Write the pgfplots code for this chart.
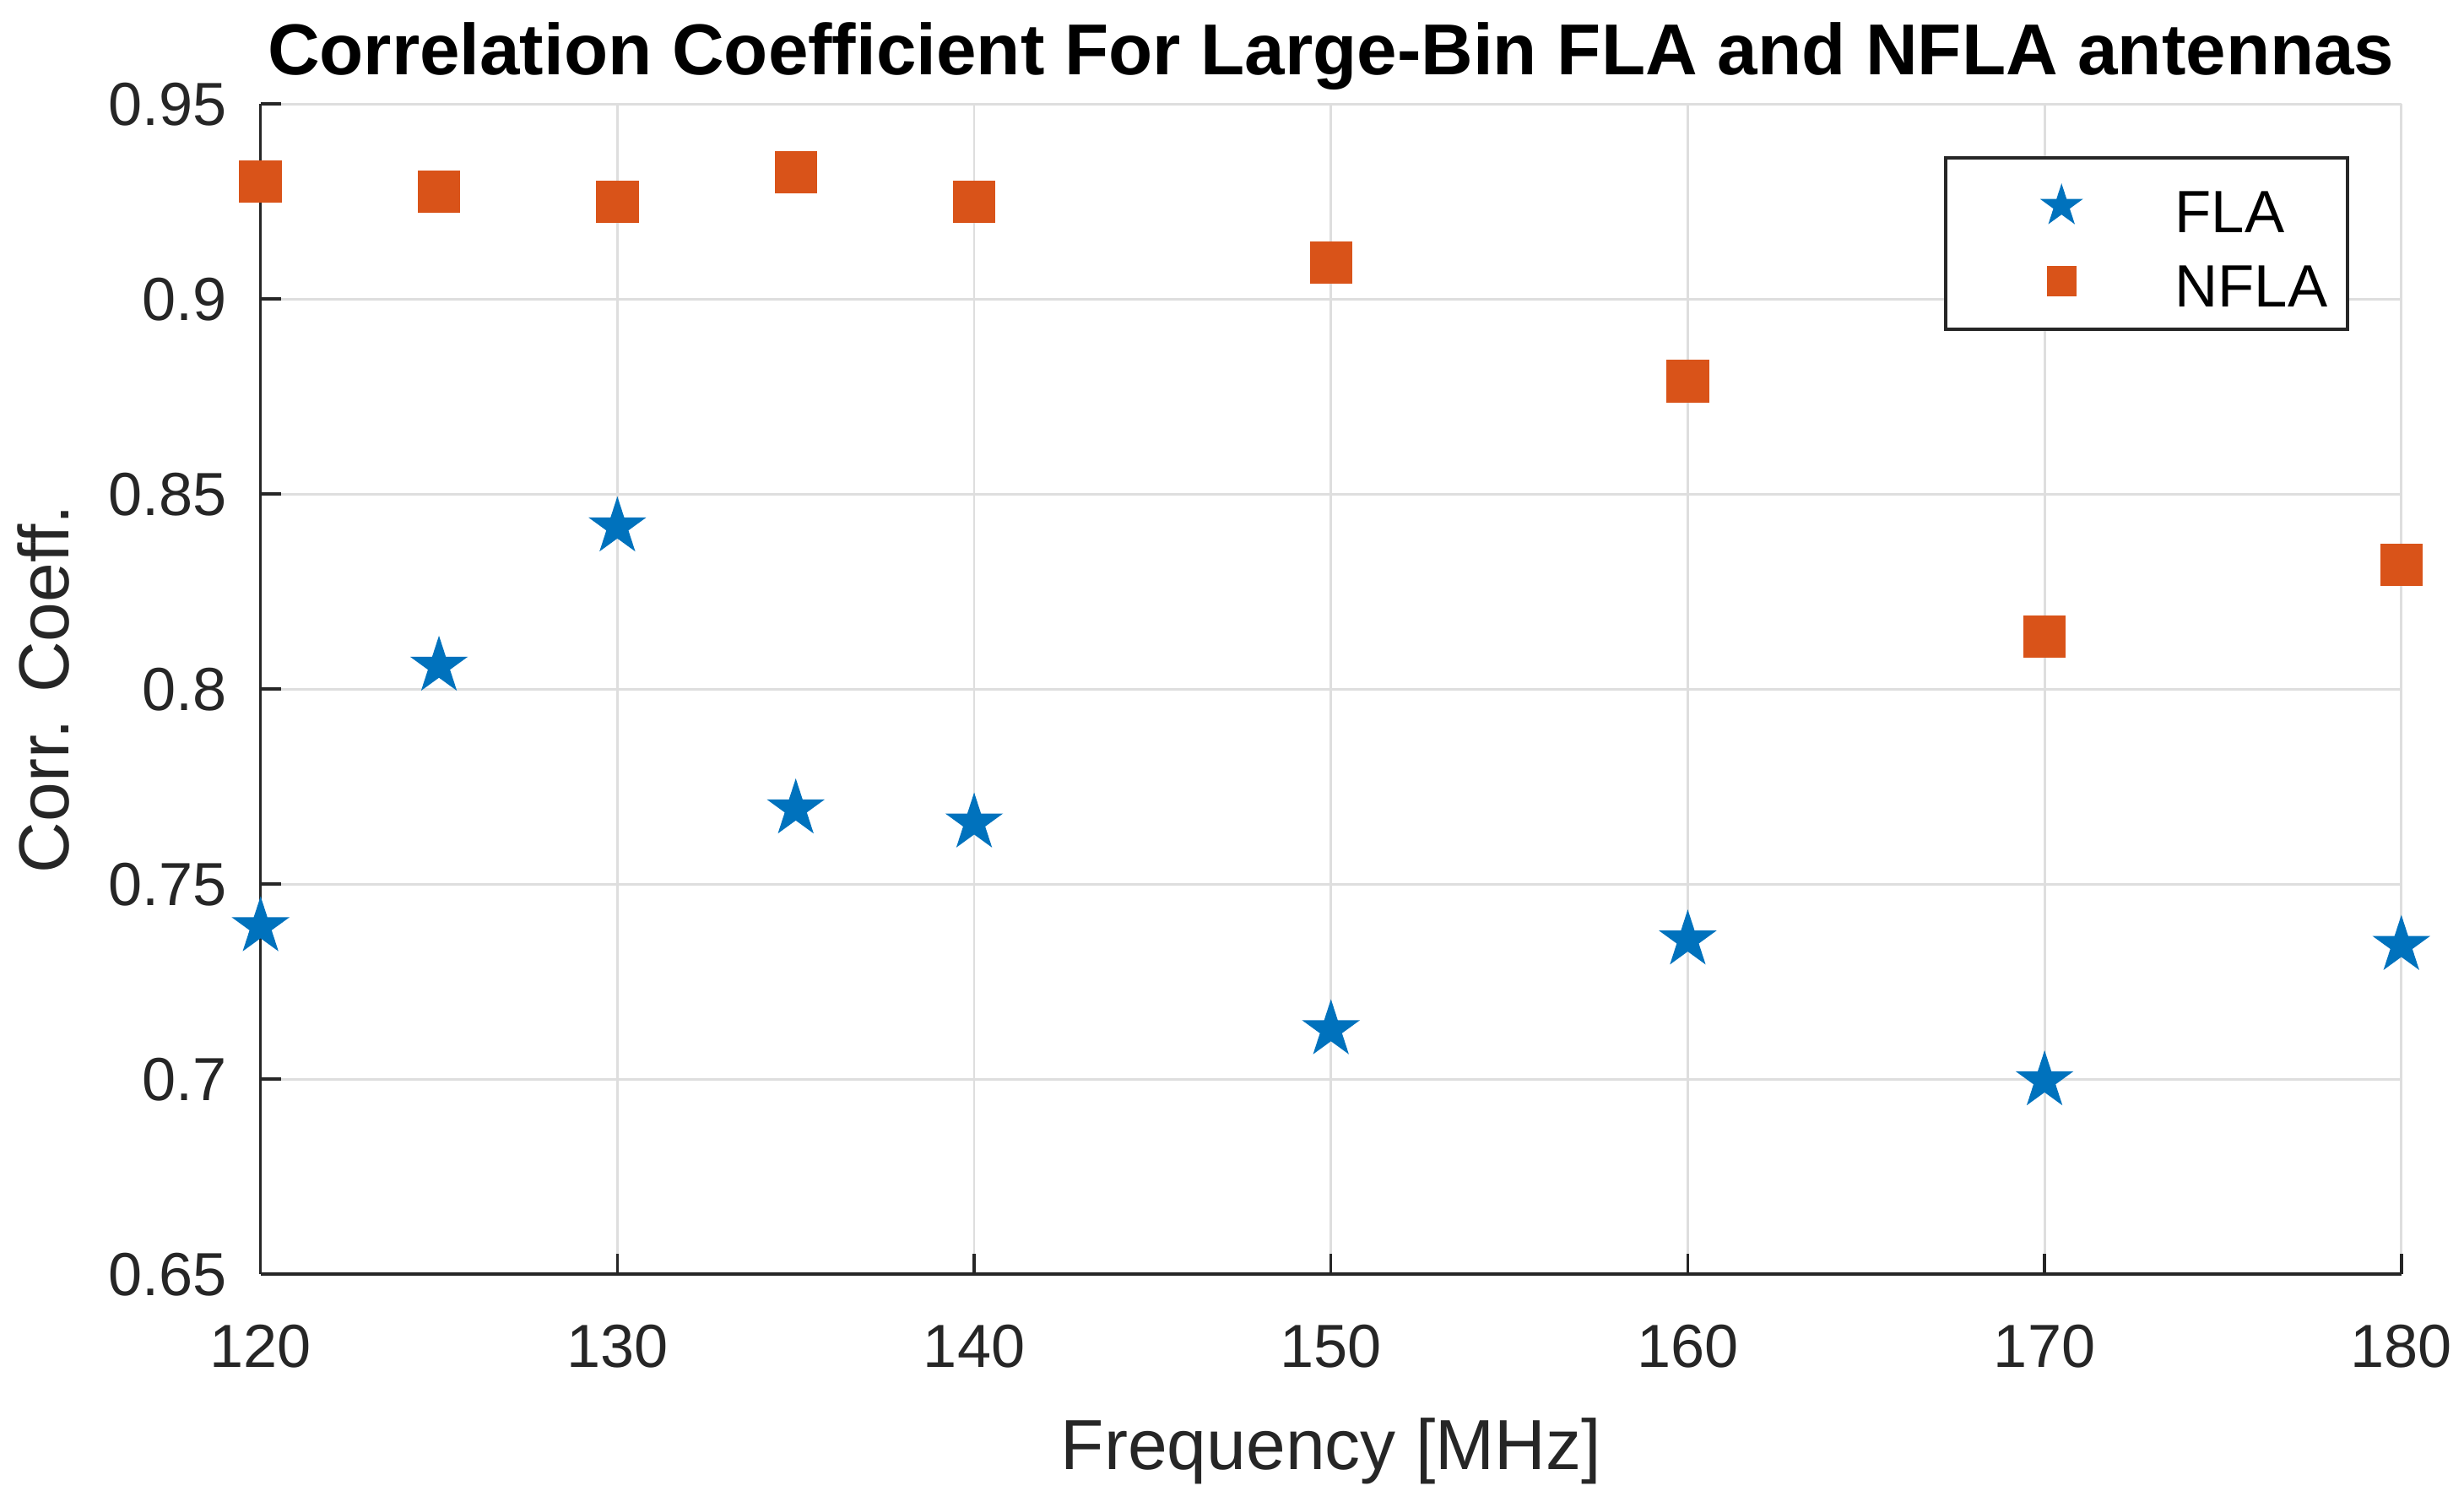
\documentclass[border=0pt]{standalone}
\usepackage{fontspec}
\setmainfont{Liberation Sans}
\usepackage{pgfplots}
\pgfplotsset{compat=1.18}

\definecolor{mblue}{HTML}{0072BD}
\definecolor{morange}{HTML}{D95319}
\definecolor{axgray}{HTML}{262626}
\definecolor{gridgray}{HTML}{DEDEDE}

% filled pentagram like MATLAB's 'p' marker
\pgfdeclareplotmark{fstar}{%
  \pgfpathmoveto{\pgfpointpolar{90}{\pgfplotmarksize}}%
  \pgfpathlineto{\pgfpointpolar{126}{0.382\pgfplotmarksize}}%
  \pgfpathlineto{\pgfpointpolar{162}{\pgfplotmarksize}}%
  \pgfpathlineto{\pgfpointpolar{198}{0.382\pgfplotmarksize}}%
  \pgfpathlineto{\pgfpointpolar{234}{\pgfplotmarksize}}%
  \pgfpathlineto{\pgfpointpolar{270}{0.382\pgfplotmarksize}}%
  \pgfpathlineto{\pgfpointpolar{306}{\pgfplotmarksize}}%
  \pgfpathlineto{\pgfpointpolar{342}{0.382\pgfplotmarksize}}%
  \pgfpathlineto{\pgfpointpolar{18}{\pgfplotmarksize}}%
  \pgfpathlineto{\pgfpointpolar{54}{0.382\pgfplotmarksize}}%
  \pgfpathclose
  \pgfusepathqfillstroke
}

\pgfplotsset{myleg/.style={legend image code/.code={%
  \path[draw=none] (0pt,0pt) -- (35.4pt,0pt);
  \draw[##1, draw=none, mark options={scale=0.67, draw=.}] plot coordinates {(16.2pt,0pt)};}}}

\begin{document}
\begin{tikzpicture}
\begin{axis}[
    at={(0,0)}, anchor=south west,
    scale only axis,
    width=362.3pt, height=198pt,
    xmin=120, xmax=180, ymin=0.65, ymax=0.95,
    enlargelimits=false,
    axis lines=left,
    axis line style={-, color=axgray, line width=0.5pt},
    xtick={120,130,...,180},
    ytick={0.65,0.7,0.75,0.8,0.85,0.9,0.95},
    tick align=inside,
    major tick length=3.5pt,
    tick style={color=axgray, line width=0.5pt},
    grid=major,
    major grid style={color=gridgray, line width=0.4pt},
    /pgf/number format/assume math mode=true,
    ticklabel style={font=\fontsize{10.3}{12}\selectfont, color=axgray},
    xticklabel style={inner sep=0pt, anchor=north, yshift=-8.3pt},
    yticklabel style={inner sep=0pt, anchor=east, xshift=-5.5pt},
    xlabel={Frequency [MHz]},
    ylabel={Corr. Coeff.},
    xlabel style={at={(axis description cs:0.5,-0.1667)}, anchor=base, inner sep=0pt,
        font=\fontsize{12}{14}\selectfont, color=axgray},
    ylabel style={at={(axis description cs:-0.0894,0.5)}, anchor=base, rotate=0, inner sep=0pt,
        font=\fontsize{12}{14}\selectfont, color=axgray},
    title={Correlation Coefficient For Large-Bin FLA and NFLA antennas},
    every axis title shift=0pt,
    title style={at={(axis description cs:0.5,1.0247)}, anchor=base, inner sep=0pt, yshift=0pt,
        font=\fontsize{12.2}{14}\selectfont\bfseries},
    clip=false,
    legend style={
        at={(0.9756,0.9553)}, anchor=north east,
        draw=axgray, line width=0.5pt,
        inner xsep=3.4pt, inner ysep=3.6pt,
        row sep=3.6pt,
        nodes={inner sep=0pt, text height=9pt, text depth=0.1pt,
               font=\fontsize{10.1}{12}\selectfont},
    },
    legend cell align=left,
]
\addplot[only marks, mark=fstar, color=mblue, mark size=4.5pt, myleg] coordinates {
    (120,0.7391) (125,0.8059) (130,0.8416) (135,0.7693) (140,0.7657)
    (150,0.7127) (160,0.7357) (170,0.6996) (180,0.7343)
};
\addplot[only marks, mark=square*, color=morange, mark size=3.4pt, myleg] coordinates {
    (120,0.9301) (125,0.9275) (130,0.9249) (135,0.9325) (140,0.9249)
    (150,0.9094) (160,0.8789) (170,0.8134) (180,0.8318)
};
\legend{FLA, NFLA}
\end{axis}
\pgfresetboundingbox
\path[use as bounding box] (-44.1pt,-38.4pt) rectangle (372.9pt,215.6pt);
\end{tikzpicture}
\end{document}
